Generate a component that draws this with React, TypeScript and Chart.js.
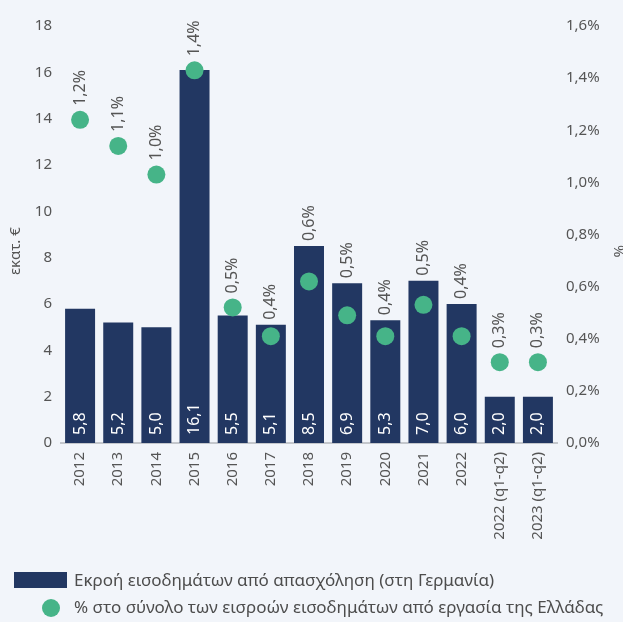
import React, { useEffect, useRef } from "react";
import { Chart, registerables } from "chart.js";

Chart.register(...registerables);

const categories = [
  "2012", "2013", "2014", "2015", "2016", "2017", "2018", "2019", "2020", "2021", "2022",
  "2022 (q1-q2)", "2023 (q1-q2)",
];
const outflows = [5.8, 5.2, 5.0, 16.1, 5.5, 5.1, 8.5, 6.9, 5.3, 7.0, 6.0, 2.0, 2.0];
const shares = [1.24, 1.14, 1.03, 1.43, 0.52, 0.41, 0.62, 0.49, 0.41, 0.53, 0.41, 0.31, 0.31];
const leftTicks = [0, 2, 4, 6, 8, 10, 12, 14, 16, 18];
const rightTicks = [0, 0.2, 0.4, 0.6, 0.8, 1.0, 1.2, 1.4, 1.6];

const barLabel = "Εκροή εισοδημάτων από απασχόληση (στη Γερμανία)";
const dotLabel = "% στο σύνολο των εισροών εισοδημάτων από εργασία της Ελλάδας";
const leftTitle = "εκατ. €";
const rightTitle = "%";

const BG = "#f2f5fa";
const BAR = "#223762";
const DOT = "#46b488";
const TEXT = "#555555";
const FONT = "'Noto Sans', sans-serif";

const fmt = (v: number) => v.toFixed(1).replace(".", ",");

const labelPlugin = {
  id: "valueLabels",
  afterDatasetsDraw(chart: any) {
    const ctx = chart.ctx;
    ctx.save();
    const barMeta = chart.getDatasetMeta(1);
    const dotMeta = chart.getDatasetMeta(0);
    ctx.font = `16px ${FONT}`;
    ctx.fillStyle = "#ffffff";
    ctx.textAlign = "left";
    ctx.textBaseline = "middle";
    barMeta.data.forEach((bar: any, i: number) => {
      ctx.save();
      ctx.translate(bar.x, bar.base - 8);
      ctx.rotate(-Math.PI / 2);
      ctx.fillText(fmt(outflows[i]), 0, 0);
      ctx.restore();
    });
    ctx.fillStyle = TEXT;
    dotMeta.data.forEach((pt: any, i: number) => {
      const bar = barMeta.data[i];
      const y = Math.min(pt.y - 14, bar.y - 5);
      ctx.save();
      ctx.translate(pt.x, y);
      ctx.rotate(-Math.PI / 2);
      ctx.fillText(fmt(shares[i]) + "%", 0, 0);
      ctx.restore();
    });
    ctx.restore();
  },
  afterDraw(chart: any) {
    const ctx = chart.ctx;
    const area = chart.chartArea;
    const midY = area.top + (area.bottom - area.top) * 0.54;
    ctx.save();
    ctx.font = `15px ${FONT}`;
    ctx.fillStyle = TEXT;
    ctx.textAlign = "center";
    ctx.textBaseline = "middle";
    ctx.save();
    ctx.translate(16, midY);
    ctx.rotate(-Math.PI / 2);
    ctx.fillText(leftTitle, 0, 0);
    ctx.restore();
    ctx.save();
    ctx.translate(chart.width - 5, midY);
    ctx.rotate(Math.PI / 2);
    ctx.fillText(rightTitle, 0, 0);
    ctx.restore();
    ctx.restore();
  },
};

export default function App() {
  const ref = useRef<HTMLCanvasElement | null>(null);

  useEffect(() => {
    document.body.style.margin = "0";
    document.body.style.background = BG;
    const canvas = ref.current;
    if (!canvas) return;
    const chart = new Chart(canvas, {
      type: "bar",
      data: {
        labels: categories,
        datasets: [
          {
            type: "line",
            label: dotLabel,
            data: shares,
            yAxisID: "y1",
            showLine: false,
            pointRadius: 9,
            pointHoverRadius: 9,
            pointBackgroundColor: DOT,
            pointBorderWidth: 0,
            backgroundColor: DOT,
            borderColor: DOT,
            order: 1,
          } as any,
          {
            type: "bar",
            label: barLabel,
            data: outflows,
            yAxisID: "y",
            backgroundColor: BAR,
            categoryPercentage: 1,
            barPercentage: 0.786,
            order: 2,
          },
        ],
      },
      options: {
        responsive: false,
        animation: false,
        layout: { padding: { top: 26, bottom: 47, left: 0, right: 0 } },
        plugins: {
          legend: { display: false },
          tooltip: { enabled: false },
        },
        scales: {
          x: {
            grid: { display: false, drawTicks: false },
            border: { display: true, color: "#c4c7cc", width: 2 },
            ticks: {
              color: TEXT,
              font: { family: FONT, size: 15 },
              minRotation: 90,
              maxRotation: 90,
              padding: 9,
              autoSkip: false,
            },
            afterFit: (s: any) => {
              s.height = 132;
            },
          },
          y: {
            position: "left",
            min: 0,
            max: 18,
            afterBuildTicks: (s: any) => {
              s.ticks = leftTicks.map((v) => ({ value: v }));
            },
            grid: { display: false, drawTicks: false },
            border: { display: false },
            ticks: {
              color: TEXT,
              font: { family: FONT, size: 15 },
              padding: 9,
              callback: (v: any) => String(v),
            },
            afterFit: (s: any) => {
              s.width = 61;
            },
          },
          y1: {
            position: "right",
            min: 0,
            max: 1.6,
            afterBuildTicks: (s: any) => {
              s.ticks = rightTicks.map((v) => ({ value: v }));
            },
            grid: { display: false, drawTicks: false },
            border: { display: false },
            ticks: {
              color: TEXT,
              font: { family: FONT, size: 15 },
              padding: 9,
              callback: (v: any) => fmt(Number(v)) + "%",
            },
            afterFit: (s: any) => {
              s.width = 66;
            },
          },
        },
      },
      plugins: [labelPlugin],
    });
    return () => chart.destroy();
  }, []);

  const legendText: React.CSSProperties = {
    position: "absolute",
    left: 74,
    fontFamily: FONT,
    fontSize: 17,
    color: "#4d4d4d",
    whiteSpace: "nowrap",
    lineHeight: "20px",
  };

  return (
    <div style={{ position: "relative", width: 623, height: 622, background: BG, overflow: "hidden" }}>
      <canvas ref={ref} width={623} height={622} style={{ display: "block" }} />
      <div style={{ position: "absolute", left: 14, top: 572, width: 53, height: 16, background: BAR }} />
      <div style={{ ...legendText, top: 570 }}>{barLabel}</div>
      <div style={{ position: "absolute", left: 42, top: 599, width: 18, height: 18, borderRadius: 9, background: DOT }} />
      <div style={{ ...legendText, top: 597 }}>{dotLabel}</div>
    </div>
  );
}
